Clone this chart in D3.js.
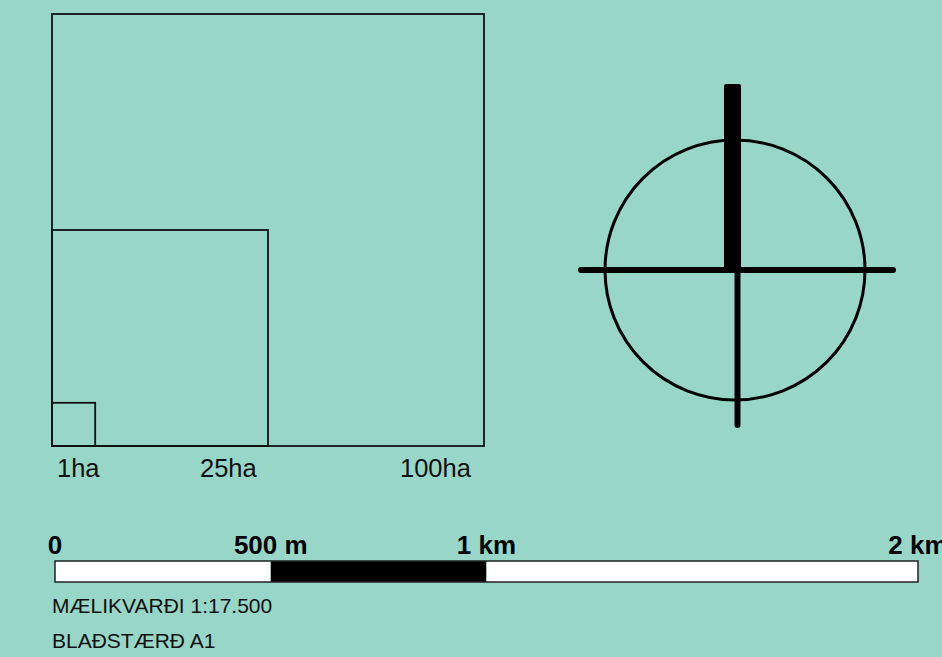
<!DOCTYPE html>
<html>
<head>
<meta charset="utf-8">
<script src="https://cdn.jsdelivr.net/npm/d3@7"></script>
<style>
html,body{margin:0;padding:0;background:#98d7c7;overflow:hidden;}
svg{display:block;font-family:"Liberation Sans",Arial,sans-serif;}
</style>
</head>
<body>
<svg id="chart" width="942" height="657"></svg>
<script>
// Data
const areaLabels = ["1ha", "25ha", "100ha"];
const areaHectares = [1, 25, 100];
const scaleTicks = [0, 500, 1000, 2000];
const scaleTickLabels = ["0", "500 m", "1 km", "2 km"];
const scaleSegmentFill = ["white", "black", "white"];
const textLines = ["MÆLIKVARÐI 1:17.500", "BLAÐSTÆRÐ A1"];

const svg = d3.select("#chart");
svg.append("rect").attr("width", 942).attr("height", 657).attr("fill", "#98d7c7");

// Area squares: side length in metres = sqrt(ha * 10000)
const side = d3.scaleLinear().domain([0, 1000]).range([0, 432]);
const ox = 52, oy = 446;
const sq = areaHectares.map((h, i) => ({ha: h, label: areaLabels[i], s: side(Math.sqrt(h * 10000))}));
svg.selectAll("rect.sq").data(sq.slice().reverse()).join("rect")
  .attr("class", "sq")
  .attr("x", ox).attr("y", d => oy - d.s)
  .attr("width", d => d.s).attr("height", d => d.s)
  .attr("fill", "none").attr("stroke", "#111").attr("stroke-width", 1.8);
const labelX = [57, 200, 400];
svg.selectAll("text.sql").data(sq).join("text")
  .attr("class", "sql")
  .attr("x", (d, i) => labelX[i]).attr("y", 477)
  .attr("font-size", 25.5).attr("fill", "#111")
  .text(d => d.label);

// North arrow
const cx = 735, cy = 270, r = 130;
const na = svg.append("g");
na.append("circle").attr("cx", cx).attr("cy", cy).attr("r", r)
  .attr("fill", "none").attr("stroke", "#000").attr("stroke-width", 3);
na.append("line").attr("x1", 581).attr("x2", 893).attr("y1", cy).attr("y2", cy)
  .attr("stroke", "#000").attr("stroke-width", 6).attr("stroke-linecap", "round");
na.append("line").attr("x1", 737.5).attr("x2", 737.5).attr("y1", cy).attr("y2", 425)
  .attr("stroke", "#000").attr("stroke-width", 6).attr("stroke-linecap", "round");
na.append("rect").attr("x", 724).attr("y", 84).attr("width", 17).attr("height", cy - 84 + 2)
  .attr("rx", 2).attr("fill", "#000");

// Scale bar
const x = d3.scaleLinear().domain([0, 2000]).range([55, 918]);
const segs = d3.pairs(scaleTicks).map((p, i) => ({a: p[0], b: p[1], fill: scaleSegmentFill[i]}));
svg.selectAll("rect.seg").data(segs).join("rect")
  .attr("class", "seg")
  .attr("x", d => x(d.a)).attr("y", 561)
  .attr("width", d => x(d.b) - x(d.a)).attr("height", 21)
  .attr("fill", d => d.fill);
svg.append("rect").attr("x", x(0)).attr("y", 561).attr("width", x(2000) - x(0)).attr("height", 21)
  .attr("fill", "none").attr("stroke", "#222").attr("stroke-width", 1.5);
svg.selectAll("text.tick").data(scaleTicks).join("text")
  .attr("class", "tick")
  .attr("x", d => x(d)).attr("y", 554)
  .attr("text-anchor", "middle")
  .attr("font-size", 26).attr("font-weight", "bold").attr("fill", "#000")
  .text((d, i) => scaleTickLabels[i]);

svg.selectAll("text.info").data(textLines).join("text")
  .attr("class", "info")
  .attr("x", 52).attr("y", (d, i) => 613 + i * 35)
  .attr("font-size", 21).attr("fill", "#111")
  .text(d => d);
</script>
</body>
</html>
